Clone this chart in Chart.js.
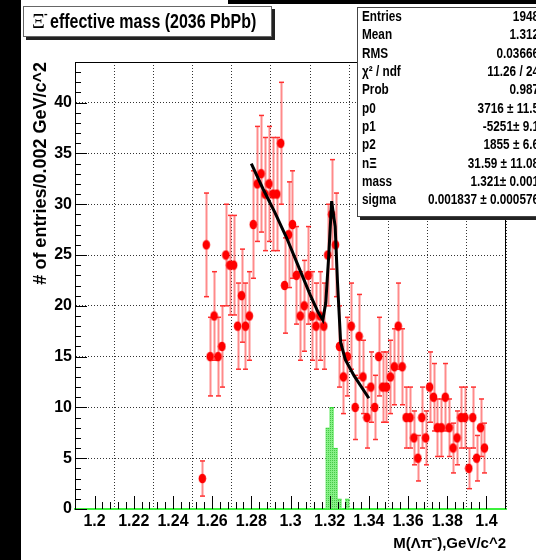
<!DOCTYPE html>
<html>
<head>
<meta charset="utf-8">
<script src="https://cdn.jsdelivr.net/npm/chart.js@4.4.0/dist/chart.umd.min.js"></script>
<style>
html, body { margin: 0; padding: 0; background: #fff; }
</style>
</head>
<body>
<canvas id="xiMass" width="536" height="560"></canvas>
<script>
// bin centres (GeV/c^2), entries per 0.002 GeV/c^2 bin and their errors
var massBins = [1.255, 1.257, 1.259, 1.261, 1.263, 1.265, 1.267, 1.269, 1.271, 1.273,
    1.275, 1.277, 1.279, 1.281, 1.283, 1.285, 1.287, 1.289, 1.291, 1.293,
    1.295, 1.297, 1.299, 1.301, 1.303, 1.305, 1.307, 1.309, 1.311, 1.313,
    1.315, 1.317, 1.319, 1.321, 1.323, 1.325, 1.327, 1.329, 1.331, 1.333,
    1.335, 1.337, 1.339, 1.341, 1.343, 1.345, 1.347, 1.349, 1.351, 1.353,
    1.355, 1.357, 1.359, 1.361, 1.363, 1.365, 1.367, 1.369, 1.371, 1.373,
    1.375, 1.377, 1.379, 1.381, 1.383, 1.385, 1.387, 1.389, 1.391, 1.393,
    1.395, 1.397, 1.399];
var entries = [3, 26, 15, 19, 15, 16, 25, 24, 24, 18,
    21, 18, 19, 28, 32, 33, 31, 32, 31, 31,
    36, 22, 27, 28, 23, 19, 20, 23, 19, 18,
    19, 18, 25, 29, 26, 16, 13, 15, 18, 10,
    17, 13, 9, 12, 10, 15, 12, 12, 13, 14,
    18, 14, 9, 9, 7, 5, 9, 7, 12, 11,
    8, 8, 11, 8, 6, 7, 9, 9, 4, 9,
    5, 8, 6];
var entryErrors = [1.73, 5.10, 3.87, 4.36, 3.87, 4.00, 5.00, 4.90, 4.90, 4.24,
    4.58, 4.24, 4.36, 5.29, 5.66, 5.74, 5.57, 5.66, 5.57, 5.57,
    6.00, 4.69, 5.20, 5.29, 4.80, 4.36, 4.47, 4.80, 4.36, 4.24,
    4.36, 4.24, 5.00, 5.39, 5.10, 4.00, 3.61, 3.87, 4.24, 3.16,
    4.12, 3.61, 3.00, 3.46, 3.16, 3.87, 3.46, 3.46, 3.61, 3.74,
    4.24, 3.74, 3.00, 3.00, 2.65, 2.24, 3.00, 2.65, 3.46, 3.32,
    2.83, 2.83, 3.32, 2.83, 2.45, 2.65, 3.00, 3.00, 2.00, 3.00,
    2.24, 2.83, 2.45];

// green (MC) histogram
var mcBins = [1.319, 1.321, 1.323, 1.325, 1.329];
var mcEntries = [8, 10, 6, 1, 1];

// fit curve (pol2 + gaus)
var fitMass = [1.280, 1.286, 1.292, 1.298, 1.304, 1.310, 1.314, 1.3165, 1.318, 1.3195,
    1.321, 1.3228, 1.324, 1.3256, 1.328, 1.3325, 1.340];
var fitValue = [34.0, 31.5, 29.2, 26.7, 23.9, 21.1, 19.4, 18.6, 20.3, 24.9,
    30.3, 27.8, 22.3, 16.4, 14.7, 13.1, 10.9];

// stats box
var statLabels = ['Entries', 'Mean', 'RMS', 'χ² / ndf', 'Prob', 'p0', 'p1', 'p2', 'nΞ', 'mass', 'sigma'];
var statValues = ['1948', '1.312', '0.03666', '11.26 / 24', '0.987', '3716 ± 11.5', '-5251± 9.1',
    '1855 ± 6.6', '31.59 ± 11.08', '1.321± 0.001', '0.001837 ± 0.000576'];

var SANS = "'Liberation Sans', Arial, sans-serif";

function stipple() {
    var c = document.createElement('canvas');
    c.width = 2; c.height = 2;
    var g = c.getContext('2d');
    g.fillStyle = '#86f086';
    g.fillRect(0, 0, 2, 2);
    g.fillStyle = '#46c846';
    g.fillRect(0, 0, 1, 1);
    return g.createPattern(c, 'repeat');
}

function marker() {
    var c = document.createElement('canvas');
    c.width = 9; c.height = 11;
    var g = c.getContext('2d');
    g.fillStyle = '#ff0000';
    g.beginPath();
    g.ellipse(4.5, 5.5, 3.8, 4.8, 0, 0, Math.PI * 2);
    g.fill();
    return c;
}

function line(ctx, x1, y1, x2, y2) {
    ctx.beginPath();
    ctx.moveTo(x1, y1);
    ctx.lineTo(x2, y2);
    ctx.stroke();
}

// condensed text: ROOT uses a narrow helvetica
function narrowText(ctx, text, x, y, squeeze) {
    ctx.save();
    ctx.translate(x, y);
    ctx.scale(squeeze, 1);
    ctx.fillText(text, 0, 0);
    ctx.restore();
}

// vertical error bars with little caps, drawn under the markers
var errorBars = {
    id: 'errorBars',
    beforeDatasetDraw: function (chart, args) {
        if (args.index !== 1) return;
        var ctx = chart.ctx, sx = chart.scales.x, sy = chart.scales.y;
        ctx.save();
        for (var i = 0; i < massBins.length; i++) {
            var px = Math.round(sx.getPixelForValue(massBins[i])) + 0.5;
            var top = sy.getPixelForValue(entries[i] + entryErrors[i]);
            var bot = sy.getPixelForValue(entries[i] - entryErrors[i]);
            ctx.strokeStyle = 'rgba(255, 60, 60, 0.6)';
            ctx.lineWidth = 2;
            line(ctx, px, top, px, bot);
            ctx.strokeStyle = '#ff3030';
            ctx.lineWidth = 1.5;
            line(ctx, px - 2.5, top, px + 2.5, top);
            line(ctx, px - 2.5, bot, px + 2.5, bot);
        }
        ctx.restore();
    }
};

// ROOT style frame, inside ticks, title box and stats box
var rootFrame = {
    id: 'rootFrame',
    beforeDraw: function (chart) {
        var ctx = chart.ctx;
        ctx.save();
        ctx.fillStyle = '#000';
        ctx.fillRect(0, 0, 21, 560);
        ctx.fillRect(228, 0, 308, 4);
        ctx.restore();
    },
    afterDraw: function (chart) {
        var ctx = chart.ctx, a = chart.chartArea;
        var sx = chart.scales.x, sy = chart.scales.y;
        ctx.save();
        ctx.strokeStyle = '#000';
        ctx.lineWidth = 1;
        line(ctx, a.left, a.top + 0.5, a.right, a.top + 0.5);
        line(ctx, a.right - 0.5, a.top, a.right - 0.5, a.bottom);

        for (var v = 0; v <= 43; v++) {
            var py = Math.round(sy.getPixelForValue(v)) + 0.5;
            line(ctx, a.left, py, a.left + (v % 5 === 0 ? 12 : 6), py);
        }
        for (var k = 0; k <= 50; k++) {
            var px = Math.round(sx.getPixelForValue(1.2 + k * 0.004)) + 0.5;
            line(ctx, px, a.bottom, px, a.bottom - (k % 5 === 0 ? 13 : 7));
        }

        // title box
        ctx.fillStyle = '#222';
        ctx.fillRect(26, 9, 249, 31);
        ctx.fillStyle = '#fff';
        ctx.fillRect(23, 6, 249, 31);
        ctx.strokeStyle = '#666';
        ctx.strokeRect(23.5, 6.5, 248, 30);
        ctx.fillStyle = '#000';
        ctx.textBaseline = 'middle';
        ctx.font = "20px 'Liberation Serif', serif";
        ctx.fillText('Ξ', 32, 23);
        ctx.font = 'bold 11px ' + SANS;
        ctx.fillText('-', 44, 14);
        ctx.font = 'bold 20px ' + SANS;
        narrowText(ctx, 'effective mass (2036 PbPb)', 50, 22, 0.8);

        // stats box
        ctx.fillStyle = '#222';
        ctx.fillRect(360, 10, 190, 210);
        ctx.fillStyle = '#fff';
        ctx.fillRect(357, 7, 190, 210);
        ctx.strokeStyle = '#444';
        ctx.strokeRect(357.5, 7.5, 190, 209);
        ctx.fillStyle = '#000';
        ctx.font = 'bold 14px ' + SANS;
        for (var i = 0; i < statLabels.length; i++) {
            var ry = 17 + i * 18.35;
            ctx.textAlign = 'left';
            narrowText(ctx, statLabels[i], 362, ry, 0.84);
            ctx.textAlign = 'right';
            narrowText(ctx, statValues[i], 539, ry, 0.84);
        }
        ctx.restore();
    }
};

var ctx = document.getElementById('xiMass').getContext('2d');
var xiChart = new Chart(ctx, {
    type: 'scatter',
    data: {
        datasets: [{
            type: 'line',
            label: 'fit',
            data: fitMass.map(function (m, i) { return { x: m, y: fitValue[i] }; }),
            borderColor: '#000',
            borderWidth: 3,
            pointRadius: 0,
            fill: false,
            order: 0
        }, {
            type: 'scatter',
            label: 'data',
            data: massBins.map(function (m, i) { return { x: m, y: entries[i] }; }),
            pointStyle: marker(),
            pointRadius: 4,
            order: 1
        }, {
            type: 'bar',
            label: 'MC',
            data: mcBins.map(function (m, i) { return { x: m, y: mcEntries[i] }; }),
            backgroundColor: stipple(),
            borderColor: '#2fd82f',
            borderWidth: { top: 1, left: 0, right: 0, bottom: 0 },
            barThickness: 4.6,
            grouped: false,
            order: 2
        }]
    },
    options: {
        responsive: false,
        animation: false,
        devicePixelRatio: 1,
        layout: { padding: { left: 21, top: 62, right: 30, bottom: 0 } },
        plugins: {
            legend: { display: false },
            tooltip: { enabled: false },
            title: { display: false }
        },
        scales: {
            x: {
                type: 'linear',
                min: 1.2,
                max: 1.4,
                afterFit: function (s) { s.height = 51; },
                ticks: {
                    stepSize: 0.02,
                    includeBounds: false,
                    autoSkip: false,
                    maxRotation: 0,
                    padding: 3,
                    color: '#000',
                    font: { family: SANS, size: 16, weight: 'bold' },
                    callback: function (v) { return String(+v.toFixed(2)); }
                },
                grid: { color: 'rgba(0,0,0,0.8)', lineWidth: 1, drawTicks: false },
                border: { color: '#3cf03c', width: 2, dash: [1, 2] },
                title: {
                    display: true,
                    text: 'M(Λπ⁻),GeV/c^2',
                    align: 'end',
                    color: '#000',
                    font: { family: SANS, size: 15, weight: 'bold' },
                    padding: { top: 0, bottom: 7 }
                }
            },
            y: {
                min: 0,
                max: 44,
                afterFit: function (s) { s.width = 54; },
                ticks: {
                    stepSize: 5,
                    includeBounds: false,
                    padding: 3,
                    color: '#000',
                    font: { family: SANS, size: 16, weight: 'bold' }
                },
                grid: { color: 'rgba(0,0,0,0.8)', lineWidth: 1, drawTicks: false },
                border: { color: '#000', width: 1, dash: [1, 2] },
                title: {
                    display: true,
                    text: '# of entries/0.002 GeV/c^2',
                    align: 'end',
                    color: '#000',
                    font: { family: SANS, size: 18, weight: 'bold' },
                    padding: { top: 9, bottom: 0 }
                }
            }
        }
    },
    plugins: [errorBars, rootFrame]
});
</script>
</body>
</html>
